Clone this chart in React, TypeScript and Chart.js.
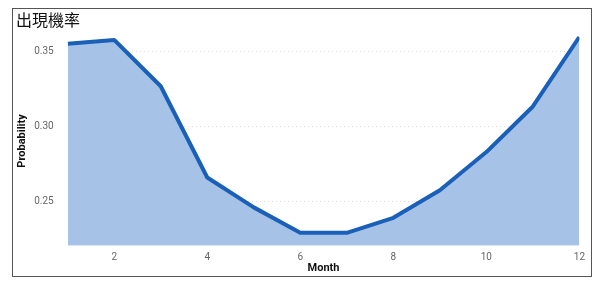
import React, { useEffect, useRef } from "react";
import { Chart, registerables } from "chart.js";

Chart.register(...registerables);

const months = [1, 2, 3, 4, 5, 6, 7, 8, 9, 10, 11, 12];
const probability = [0.3555, 0.358, 0.327, 0.266, 0.246, 0.229, 0.229, 0.239, 0.2575, 0.283, 0.3135, 0.36];
const xTicks = [2, 4, 6, 8, 10, 12];
const yTicks = [0.25, 0.3, 0.35];

export default function App() {
  const ref = useRef<HTMLCanvasElement>(null);
  useEffect(() => {
    if (!ref.current) return;
    const chart = new Chart(ref.current, {
      type: "line",
      data: {
        datasets: [
          {
            data: months.map((m, i) => ({ x: m, y: probability[i] })),
            borderColor: "#1a60b8",
            backgroundColor: "#a6c3e7",
            borderWidth: 4,
            fill: "start",
            pointRadius: 0,
            tension: 0,
            borderJoinStyle: "round",
          },
        ],
      },
      options: {
        animation: false,
        responsive: false,
        maintainAspectRatio: false,
        layout: { padding: { left: 3, right: 10, top: 0, bottom: 1 } },
        plugins: {
          legend: { display: false },
          tooltip: { enabled: false },
          title: {
            display: true,
            text: "出現機率",
            align: "start",
            color: "#111",
            font: { family: "Noto Sans CJK TC", size: 16, weight: "normal" },
            padding: { top: 1, bottom: 7 },
          },
        },
        scales: {
          x: {
            type: "linear",
            min: 1,
            max: 12,
            afterBuildTicks: (s: any) => {
              s.ticks = xTicks.map((v) => ({ value: v }));
            },
            grid: { display: false, drawTicks: false },
            border: { display: false },
            ticks: { color: "#666", font: { family: "Roboto", size: 10 }, padding: 6 },
            title: {
              display: true,
              text: "Month",
              color: "#111",
              font: { family: "Roboto", size: 11, weight: "bold" },
              padding: { top: -8, bottom: 0 },
            },
          },
          y: {
            min: 0.2203,
            max: 0.3605,
            afterBuildTicks: (s: any) => {
              s.ticks = yTicks.map((v) => ({ value: v }));
            },
            grid: { color: "#dddddd", drawTicks: false },
            border: { display: false, dash: [1, 3] },
            ticks: {
              color: "#666",
              font: { family: "Roboto", size: 10 },
              padding: 14,
              callback: (v: any) => Number(v).toFixed(2),
            },
            title: {
              display: true,
              text: "Probability",
              color: "#111",
              font: { family: "Roboto", size: 11, weight: "bold" },
              padding: { top: 0, bottom: -9 },
            },
          },
        },
      },
    });
    return () => chart.destroy();
  }, []);
  return (
    <div
      style={{
        marginLeft: 4,
        width: 578,
        height: 267,
        border: "1px solid #555",
      }}
    >
      <canvas ref={ref} width={578} height={267} style={{ display: "block" }} />
    </div>
  );
}
